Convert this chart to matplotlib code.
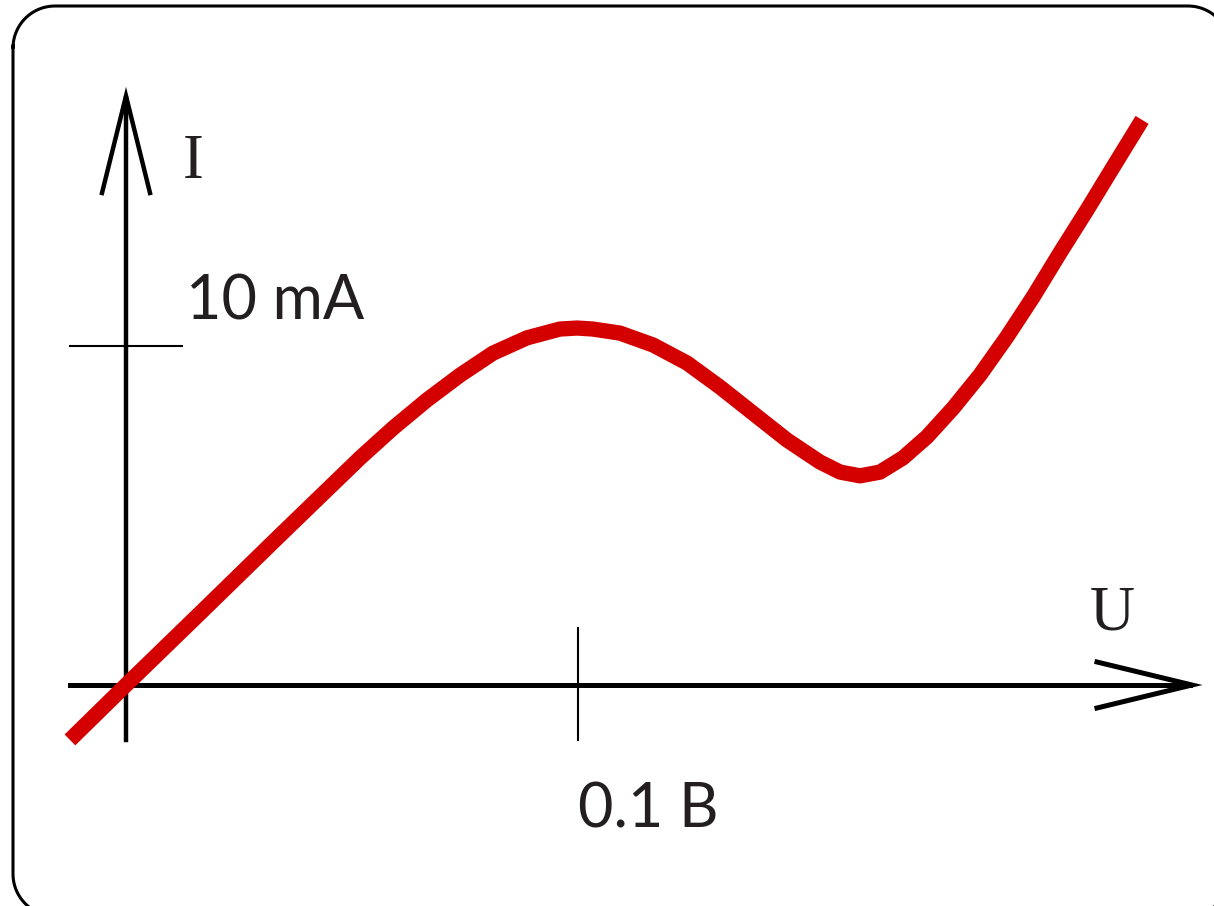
import numpy as np
import matplotlib.pyplot as plt

# ====== DATA (U in V, I in mA) ======
u_vals = [-0.0124, 0.0, 0.0164, 0.0341, 0.0518, 0.0591, 0.0666, 0.0739, 0.0812,
          0.0887, 0.0960, 0.0998, 0.1033, 0.1093, 0.1166, 0.1241, 0.1314, 0.1387,
          0.1462, 0.1535, 0.1580, 0.1624, 0.1668, 0.1719, 0.1772, 0.1830, 0.1889,
          0.1949, 0.2007, 0.2066, 0.2126, 0.2184, 0.2248]
i_vals = [-1.62, 0.0, 2.12, 4.42, 6.70, 7.58, 8.41, 9.14, 9.79,
          10.24, 10.50, 10.53, 10.50, 10.38, 10.03, 9.50, 8.79, 8.02,
          7.23, 6.58, 6.28, 6.17, 6.28, 6.70, 7.32, 8.17, 9.14,
          10.27, 11.45, 12.74, 14.01, 15.28, 16.67]

u_tick = 0.1
i_tick = 10
u_tick_label = "0.1 B"
i_tick_label = "10 mA"
u_name = "U"
i_name = "I"

# ====== FIGURE (pixel layout) ======
W, H = 1214, 906
ox, oy = 126, 685          # origin in pixels
px_per_u = 452 / 0.1
px_per_i = 339 / 10.0

def U(px):
    return (np.asarray(px) - ox) / px_per_u

def I(py):
    return (oy - np.asarray(py)) / px_per_i

fig = plt.figure(figsize=(W / 100, H / 100), dpi=100)
ax = fig.add_axes([0, 0, 1, 1])
ax.set_xlim(U(0), U(W))
ax.set_ylim(I(H), I(0))
ax.axis('off')

# rounded frame (runs past the right and bottom edges)
left, top, right, bottom, r = 13, 6, 1230, 916, 42
t = np.linspace(0, np.pi / 2, 24)
fx = np.concatenate([left + r - r * np.cos(t), right - r + r * np.sin(t),
                     right - r + r * np.cos(t), left + r - r * np.sin(t)])
fy = np.concatenate([top + r - r * np.sin(t), top + r - r * np.cos(t),
                     bottom - r + r * np.sin(t), bottom - r + r * np.cos(t)])
fx = np.append(fx, fx[:2])
fy = np.append(fy, fy[:2])
ax.plot(U(fx), I(fy), color='black', lw=2.2, clip_on=False, snap=False,
        solid_joinstyle='round', solid_capstyle='round')

# axes with open arrowheads
ax.plot([U(126), U(126)], [I(740), I(98)], color='black', lw=3.2)
ax.plot([U(102), U(126), U(150)], [I(193), I(96), I(193)], color='black', lw=3.2,
        solid_joinstyle='miter')
ax.plot([U(70), U(1190)], [I(685), I(685)], color='black', lw=3.6)
ax.plot([U(1097), U(1192), U(1097)], [I(662), I(685), I(708)], color='black', lw=3.6,
        solid_joinstyle='miter')

# ticks
ax.plot([U(70), U(182)], [i_tick, i_tick], color='black', lw=1.5)
ax.plot([u_tick, u_tick], [I(628), I(740)], color='black', lw=1.5)

# curve
ax.plot(u_vals, i_vals, color='#d40000', lw=11, solid_capstyle='butt',
        solid_joinstyle='round')

# labels
txt = '#231f20'
ax.text(U(183), I(178), i_name, fontsize=45, family='Liberation Serif', color=txt,
        ha='left', va='baseline')
ax.text(U(186), I(320), i_tick_label, fontsize=44, family='Lato', color=txt,
        ha='left', va='baseline')
ax.text(U(1090), I(630), u_name, fontsize=45, family='Liberation Serif', color=txt,
        ha='left', va='baseline')
ax.text(U(578), I(828), u_tick_label, fontsize=44, family='Lato', color=txt,
        ha='left', va='baseline')

fig.savefig("out.png", dpi=100)
